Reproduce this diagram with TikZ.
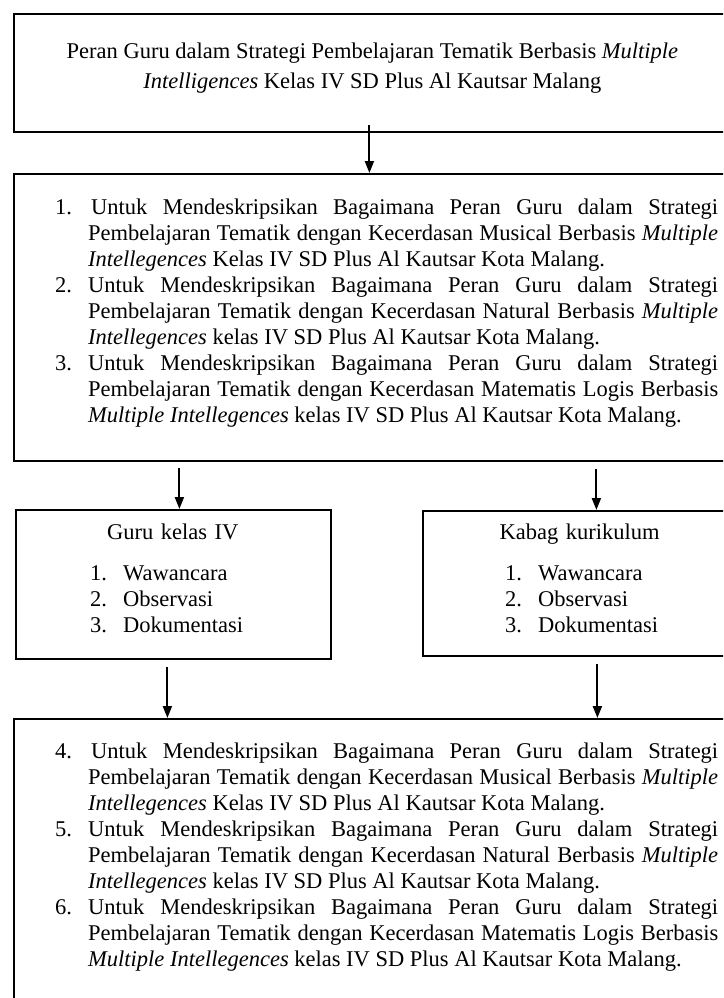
\documentclass[tikz,border=0pt]{standalone}
\usepackage{fontspec}
\setmainfont{Liberation Serif}
\usetikzlibrary{arrows.meta,positioning,calc}
\newcommand{\widthwide}{727pt}
\newcommand{\widthside}{315pt}
\newcommand{\widthnum}{33pt}
\newcommand{\mi}{\textit{Multiple}}
\newcommand{\ig}{\textit{Intellegences}}
\newcommand{\butir}[2]{\hangindent=\widthnum\hangafter=1\noindent\makebox[\widthnum][l]{#1}#2\par}
\newcommand{\tujuanlist}[3]{%
    \butir{#1}{\hspace{3pt}Untuk Mendeskripsikan Bagaimana Peran Guru dalam Strategi\linebreak
        Pembelajaran Tematik dengan Kecerdasan Musical Berbasis \mi\linebreak
        \ig{} Kelas IV SD Plus Al Kautsar Kota Malang.}
    \butir{#2}{Untuk Mendeskripsikan Bagaimana Peran Guru dalam Strategi\linebreak
        Pembelajaran Tematik dengan Kecerdasan Natural Berbasis \mi\linebreak
        \ig{} kelas IV SD Plus Al Kautsar Kota Malang.}
    \butir{#3}{Untuk Mendeskripsikan Bagaimana Peran Guru dalam Strategi\linebreak
        Pembelajaran Tematik dengan Kecerdasan Matematis Logis Berbasis\linebreak
        \mi{} \ig{} kelas IV SD Plus Al Kautsar Kota Malang.}}
\tikzset{
    panel/.style={draw, rectangle, line width=1.8pt, anchor=north west, inner sep=0pt},
    wide/.style={panel, minimum width=\widthwide},
    side/.style={panel, minimum width=\widthside},
    txt/.style={inner sep=0pt, font=\fontsize{22.5}{26}\selectfont},
    arrow/.style={-{Triangle[length=12pt,width=9pt]}, line width=2pt}
}
\begin{document}
\begin{tikzpicture}[x=1pt, y=-1pt]
    \useasboundingbox (0,0) rectangle (723,998);
    \clip (0,0) rectangle (723,998);

    % boxes
    \node[wide, minimum height=118pt] (judul) at (13,13) {};
    \node[wide, minimum height=287pt] (tujuan) at (13,173) {};
    \node[side, minimum height=149pt] (guru) at (15,509) {};
    \node[side, minimum height=145pt] (kabag) at (422,510) {};
    \node[wide, minimum height=330pt] (hasil) at (13,718) {};

    % texts
    \node[txt, align=center, below=30pt of judul.north, xshift=-5pt] (judul-t)
        {Peran Guru dalam Strategi Pembelajaran Tematik Berbasis \mi\\[4pt]
         \textit{Intelligences} Kelas IV SD Plus Al Kautsar Malang};
    \node[txt, anchor=north west, below right=26pt and 42pt of tujuan.north west] (tujuan-t)
        {\parbox[t]{663pt}{\tujuanlist{1.}{2.}{3.}}};
    \node[txt, anchor=north west, below right=15pt and 0pt of guru.north west, text width=\widthside, align=left] (guru-t)
        {\makebox[\linewidth]{Guru kelas IV}\\[15pt]
         \hspace*{75pt}\makebox[\widthnum][l]{1.}Wawancara\\
         \hspace*{75pt}\makebox[\widthnum][l]{2.}Observasi\\
         \hspace*{75pt}\makebox[\widthnum][l]{3.}Dokumentasi};
    \node[txt, anchor=north west, below right=14pt and 0pt of kabag.north west, text width=\widthside, align=left] (kabag-t)
        {\makebox[\linewidth]{Kabag kurikulum}\\[15pt]
         \hspace*{83pt}\makebox[\widthnum][l]{1.}Wawancara\\
         \hspace*{83pt}\makebox[\widthnum][l]{2.}Observasi\\
         \hspace*{83pt}\makebox[\widthnum][l]{3.}Dokumentasi};
    \node[txt, anchor=north west, below right=25pt and 42pt of hasil.north west] (hasil-t)
        {\parbox[t]{663pt}{\tujuanlist{4.}{5.}{6.}}};

    % arrows
    \draw[arrow] ([xshift=-8pt, yshift=8pt]judul.south) -- ([xshift=-8pt]tujuan.north);
    \draw[arrow] ($(guru.north |- tujuan.south)+(6,6)$) -- ([xshift=6pt]guru.north);
    \draw[arrow] ($(kabag.north |- tujuan.south)+(16,7)$) -- ([xshift=16pt]kabag.north);
    \draw[arrow] ($(guru.south)+(-6,7)$) -- ($(guru.south |- hasil.north)+(-6,0)$);
    \draw[arrow] ($(kabag.south)+(17,7)$) -- ($(kabag.south |- hasil.north)+(17,0)$);
\end{tikzpicture}
\end{document}
